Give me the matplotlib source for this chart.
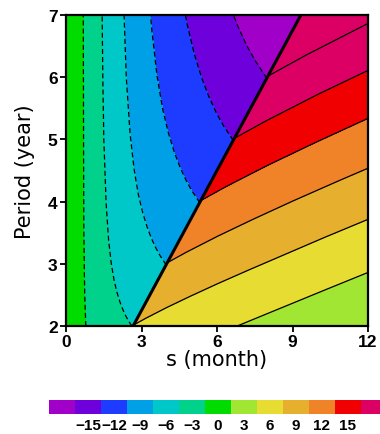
import numpy as np
import matplotlib
matplotlib.use("Agg")
import matplotlib.pyplot as plt

# phase of the response (fraction of a quarter cycle) against s / Period
ratio_left = [0, 0.05, 0.1, 0.15, 0.2, 0.25, 0.3, 0.4, 0.5, 0.6, 0.7, 0.8,
              0.9, 1.0, 1.1, 1.2, 4 / 3]
phase_left = [0, 0.072, 0.143, 0.211, 0.277, 0.338, 0.396, 0.498, 0.586,
              0.661, 0.726, 0.782, 0.832, 0.877, 0.918, 0.955, 1.0]
ratio_right = [4 / 3, 1.5, 1.75, 2.0, 2.25, 2.5, 3.0, 3.5, 4.0, 5.0, 6.0]
phase_right = [1.0, 1.053, 1.124, 1.188, 1.248, 1.304, 1.411, 1.511, 1.608,
               1.796, 1.978]

offset = 1.45
fill_levels = np.arange(-16.5, 17, 3)
line_levels = np.arange(-19.5, 20, 3)
colors = ["#A000C8", "#6E00DC", "#1E3CFF", "#00A0E6", "#00C8C8", "#00D28C",
          "#00DC00", "#A0E632", "#E6DC32", "#E6AF2D", "#F08228", "#F00000",
          "#DC0064"]
cbar_ticks = [-15, -12, -9, -6, -3, 0, 3, 6, 9, 12, 15]
x_ticks = [0, 3, 6, 9, 12]
y_ticks = [2, 3, 4, 5, 6, 7]


def main():
    periods = np.linspace(2, 7, 41)

    per_l, rat_l = np.meshgrid(periods, ratio_left, indexing="ij")
    s_left = rat_l * per_l
    quarter_l = 3 * per_l  # quarter period in months
    val_left = offset - np.array(phase_left) * quarter_l

    per_r, rat_r = np.meshgrid(periods, ratio_right, indexing="ij")
    s_right = rat_r * per_r
    quarter_r = 3 * per_r
    val_right = offset - (np.array(phase_right) - 2) * quarter_r

    fig = plt.figure(figsize=(3.8, 4.35), dpi=100)
    ax = fig.add_axes([66 / 380, 108 / 435, 302 / 380, 311 / 435])

    cs = ax.contourf(s_left, per_l, val_left, levels=fill_levels,
                     colors=colors, extend="both")
    ax.contourf(s_right, per_r, val_right, levels=fill_levels,
                colors=colors, extend="both")

    for xx, yy, vv in [(s_left, per_l, val_left), (s_right, per_r, val_right)]:
        cl = ax.contour(xx, yy, vv, levels=line_levels, colors="black",
                        linewidths=0.9)
        styles = [(0, (4, 2.5)) if lv < 0 else "solid" for lv in cl.levels]
        cl.set_linestyles(styles)

    # discontinuity where the phase wraps
    ax.plot(s_left[:, -1], periods, color="black", lw=2.2)

    ax.set_xlim(0, 12)
    ax.set_ylim(2, 7)
    ax.set_xticks(x_ticks)
    ax.set_yticks(y_ticks)
    for sp in ax.spines.values():
        sp.set_linewidth(1.6)
    ax.tick_params(direction="out", length=4, width=1.3, top=False,
                   right=False, pad=2)
    for lab in ax.get_xticklabels() + ax.get_yticklabels():
        lab.set_fontfamily("Liberation Sans")
        lab.set_fontweight("bold")
        lab.set_fontsize(12.5)

    ax.set_xlabel("s (month)", fontsize=15, family="DejaVu Sans", labelpad=0)
    ax.set_ylabel("Period (year)", fontsize=15, family="DejaVu Sans",
                  labelpad=9)

    cax = fig.add_axes([49 / 380, 20 / 435, 338 / 380, 14 / 435])
    cb = fig.colorbar(cs, cax=cax, orientation="horizontal",
                      extendfrac="auto", extendrect=True, ticks=cbar_ticks)
    cb.outline.set_visible(False)
    cb.ax.tick_params(length=0, pad=3)
    for lab in cb.ax.get_xticklabels():
        lab.set_fontfamily("Liberation Sans")
        lab.set_fontweight("bold")
        lab.set_fontsize(11)

    fig.savefig("out.png", dpi=100)


main()
